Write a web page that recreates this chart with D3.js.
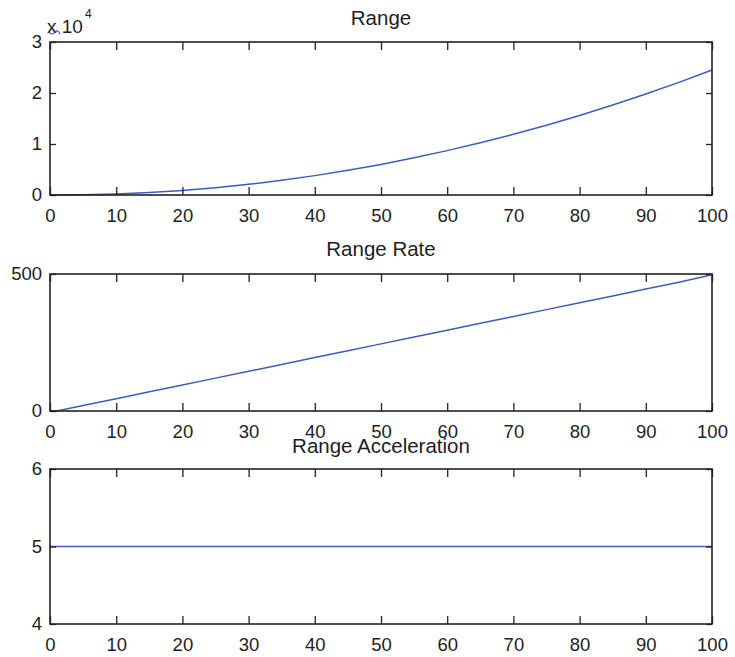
<!DOCTYPE html>
<html><head><meta charset="utf-8">
<script src="https://cdn.jsdelivr.net/npm/d3@7"></script>
<style>
body{margin:0;background:#fff;}
svg{display:block;font-family:"Liberation Sans",Arial,sans-serif;}
</style></head>
<body><svg id="c" width="735" height="657"></svg>
<script>
// Data
const tRange = [0,5,10,15,20,25,30,35,40,45,50,55,60,65,70,75,80,85,90,95,100];
const rangeVals = [0,40,200,490,900,1440,2100,2890,3800,4840,6000,7290,8700,10240,11900,13690,15600,17640,19800,22090,24500];
const tRate = [0,1,5,10,15,20,25,30,35,40,45,50,55,60,65,70,75,80,85,90,95,100];
const rateVals = [0,0,20,45,70,95,120,145,170,195,220,245,270,295,320,345,370,395,420,445,470,497];
const tAcc = [0,100];
const accVals = [5,5];
const xTicks = [0,10,20,30,40,50,60,70,80,90,100];
const titles = ["Range","Range Rate","Range Acceleration"];
const yTicks1 = [0,1,2,3];
const yTicks2 = [0,500];
const yTicks3 = [4,5,6];

const svg = d3.select("#c");
const L = 50, R = 712;
const panels = [
  {top:42, bottom:195, t:tRange, v:rangeVals.map(d=>d/1e4), dom:[0,3], ticks:yTicks1, title:titles[0], ty:25},
  {top:274, bottom:411, t:tRate, v:rateVals, dom:[0,500], ticks:yTicks2, title:titles[1], ty:256},
  {top:469, bottom:624, t:tAcc, v:accVals, dom:[4,6], ticks:yTicks3, title:titles[2], ty:453}
];
const frameColor = "#222";
const textColor = "#1e1e1e";
const lineColor = "#3d5cbf";

panels.forEach(p=>{
  const x = d3.scaleLinear().domain([0,100]).range([L,R]);
  const y = d3.scaleLinear().domain(p.dom).range([p.bottom,p.top]);
  const g = svg.append("g");
  g.append("path")
    .datum(p.t.map((t,i)=>[t,p.v[i]]))
    .attr("fill","none").attr("stroke",lineColor).attr("stroke-width",1.5)
    .attr("d", d3.line().x(d=>x(d[0])).y(d=>y(d[1])));
  const style = sel=>{
    sel.select(".domain").remove();
    sel.selectAll(".tick line").attr("stroke",frameColor).attr("stroke-width",1.3);
    sel.selectAll(".tick text").attr("fill",textColor).style("font-size","18.5px");
  };
  g.append("g").attr("transform",`translate(0,${p.bottom})`)
    .call(d3.axisBottom(x).tickValues(xTicks).tickSize(-8).tickPadding(14).tickFormat(d3.format("d")))
    .call(style);
  g.append("g").attr("transform",`translate(0,${p.top})`)
    .call(d3.axisTop(x).tickValues(xTicks).tickSize(-8).tickFormat(""))
    .call(style);
  g.append("g").attr("transform",`translate(${L},0)`)
    .call(d3.axisLeft(y).tickValues(p.ticks).tickSize(-6).tickPadding(8).tickFormat(d3.format("d")))
    .call(style);
  g.append("g").attr("transform",`translate(${R},0)`)
    .call(d3.axisRight(y).tickValues(p.ticks).tickSize(-6).tickFormat(""))
    .call(style);
  g.append("rect").attr("x",L).attr("y",p.top).attr("width",R-L).attr("height",p.bottom-p.top)
    .attr("fill","none").attr("stroke",frameColor).attr("stroke-width",1.6);
  g.append("text").attr("x",(L+R)/2).attr("y",p.ty).attr("text-anchor","middle")
    .attr("fill",textColor).style("font-size","20.5px").text(p.title);
});
// exponent label
const ex = svg.append("text").attr("x",47).attr("y",33).attr("fill",textColor).style("font-size","19px");
ex.append("tspan").text("x 10");
ex.append("tspan").attr("dy",-15).attr("dx",2).style("font-size","12px").text("4");
svg.append("path").attr("d","M49,32 q3,4 6,0 q3,-3 5,2").attr("fill","none").attr("stroke","#3344dd").attr("stroke-width",1.2);
</script></body></html>
